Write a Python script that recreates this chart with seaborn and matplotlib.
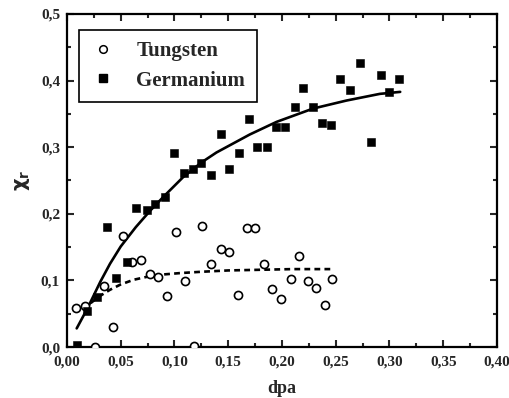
import matplotlib
matplotlib.use("Agg")
import matplotlib.pyplot as plt
from matplotlib.lines import Line2D
from matplotlib.ticker import MultipleLocator, FuncFormatter
import seaborn as sns
import pandas as pd

# Tungsten (open circles)
w_dpa = [0.008, 0.017, 0.026, 0.034, 0.043, 0.052, 0.060, 0.069, 0.077, 0.085,
         0.093, 0.101, 0.110, 0.118, 0.126, 0.134, 0.143, 0.151, 0.159, 0.167,
         0.175, 0.183, 0.191, 0.199, 0.208, 0.216, 0.224, 0.232, 0.240, 0.247]
w_chi = [0.058, 0.061, 0.000, 0.092, 0.030, 0.167, 0.127, 0.131, 0.110, 0.105,
         0.076, 0.173, 0.099, 0.002, 0.182, 0.124, 0.147, 0.142, 0.078, 0.179,
         0.178, 0.124, 0.087, 0.072, 0.102, 0.136, 0.099, 0.089, 0.063, 0.102]

# Germanium (filled squares)
ge_dpa = [0.009, 0.019, 0.028, 0.037, 0.046, 0.056, 0.064, 0.074, 0.082, 0.091,
          0.100, 0.109, 0.117, 0.125, 0.134, 0.143, 0.151, 0.160, 0.169, 0.177,
          0.186, 0.194, 0.203, 0.212, 0.220, 0.229, 0.237, 0.246, 0.254, 0.263,
          0.273, 0.283, 0.292, 0.300, 0.309]
ge_chi = [0.003, 0.054, 0.075, 0.180, 0.104, 0.128, 0.208, 0.205, 0.214, 0.225,
          0.292, 0.261, 0.267, 0.277, 0.258, 0.320, 0.267, 0.292, 0.342, 0.301,
          0.301, 0.330, 0.330, 0.360, 0.389, 0.361, 0.336, 0.333, 0.402, 0.386,
          0.427, 0.308, 0.408, 0.383, 0.402]

# fitted curves
ge_fit_x = [0.009, 0.019, 0.031, 0.040, 0.050, 0.064, 0.077, 0.090, 0.108, 0.125,
            0.139, 0.170, 0.195, 0.229, 0.260, 0.291, 0.310]
ge_fit_y = [0.028, 0.058, 0.098, 0.125, 0.151, 0.180, 0.204, 0.226, 0.255, 0.277,
            0.292, 0.319, 0.338, 0.358, 0.370, 0.380, 0.383]
w_fit_x = [0.022, 0.030, 0.040, 0.050, 0.062, 0.076, 0.090, 0.105, 0.125, 0.150,
           0.180, 0.210, 0.248]
w_fit_y = [0.066, 0.076, 0.086, 0.094, 0.101, 0.106, 0.109, 0.111, 0.113, 0.115,
           0.116, 0.117, 0.117]

sns.set_style("ticks")
plt.rcParams['font.family'] = ['Liberation Serif', 'DejaVu Serif']
plt.rcParams['font.weight'] = 'bold'

fig = plt.figure(figsize=(5.1, 3.98), dpi=100)
ax = fig.add_axes([0.1314, 0.128, 0.843, 0.837])

w_df = pd.DataFrame({"dpa": w_dpa, "chi": w_chi})
ge_df = pd.DataFrame({"dpa": ge_dpa, "chi": ge_chi})

sns.lineplot(x=ge_fit_x, y=ge_fit_y, ax=ax, color="black", linewidth=1.9, sort=False)
sns.lineplot(x=w_fit_x, y=w_fit_y, ax=ax, color="black", linewidth=1.9,
             linestyle=(0, (2.2, 1.6)), sort=False)
sns.scatterplot(data=w_df, x="dpa", y="chi", ax=ax, marker="o", s=34,
                facecolor="white", edgecolor="black", linewidth=1.2, zorder=3)
sns.scatterplot(data=ge_df, x="dpa", y="chi", ax=ax, marker="s", s=38,
                color="black", edgecolor="black", linewidth=0.4, zorder=4)

ax.set_xlim(0, 0.4)
ax.set_ylim(0, 0.5)
ax.xaxis.set_major_locator(MultipleLocator(0.05))
ax.xaxis.set_minor_locator(MultipleLocator(0.025))
ax.yaxis.set_major_locator(MultipleLocator(0.1))
ax.yaxis.set_minor_locator(MultipleLocator(0.05))
ax.xaxis.set_major_formatter(FuncFormatter(lambda v, p: f"{v:.2f}".replace(".", ",")))
ax.yaxis.set_major_formatter(FuncFormatter(lambda v, p: f"{v:.1f}".replace(".", ",")))
ax.tick_params(which="both", direction="in", top=True, right=True, width=1.5,
               labelsize=11)
ax.tick_params(axis="x", which="major", length=5, pad=6)
ax.tick_params(axis="y", which="major", length=5, pad=5)
ax.tick_params(which="minor", length=3)
for s in ax.spines.values():
    s.set_linewidth(1.6)
    s.set_color("black")

ax.set_xlabel("dpa", fontsize=13, fontweight="bold", labelpad=8)
ax.set_ylabel(r"$\mathbf{\chi}_{\mathbf{r}}$", fontsize=14, labelpad=6)

handles = [
    Line2D([], [], marker="o", linestyle="none", markersize=5.5,
           markerfacecolor="white", markeredgecolor="black", markeredgewidth=1.1),
    Line2D([], [], marker="s", linestyle="none", markersize=6,
           markerfacecolor="black", markeredgecolor="black"),
]
leg = ax.legend(handles, ["Tungsten", "Germanium"], loc="upper left",
                bbox_to_anchor=(0.028, 0.952), borderaxespad=0, fancybox=False,
                framealpha=1, edgecolor="black",
                prop={"size": 15, "weight": "bold"},
                handletextpad=1.0, borderpad=0.55, labelspacing=0.45,
                handlelength=1.2)
leg.get_frame().set_linewidth(1.2)

fig.savefig("out.png", dpi=100)
